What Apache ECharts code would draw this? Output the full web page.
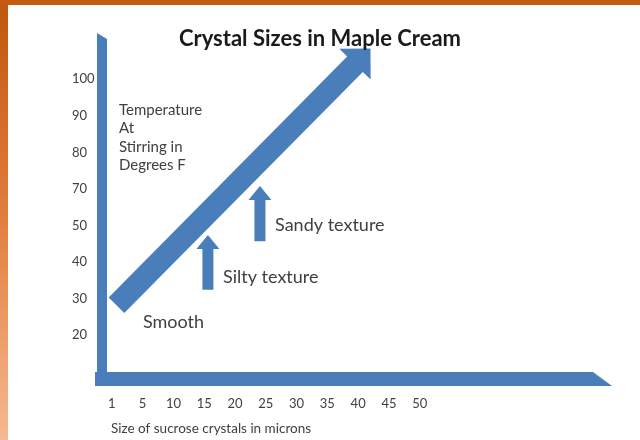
<!DOCTYPE html>
<html>
<head>
<meta charset="utf-8">
<script src="https://cdn.jsdelivr.net/npm/echarts@6/dist/echarts.min.js"></script>
<style>
html, body { margin: 0; padding: 0; background: #fff; }
#chart { width: 640px; height: 440px; }
</style>
</head>
<body>
<div id="chart"></div>
<script>
// Tick labels, one slot per label along each axis
const sizeLabels = ['1', '5', '10', '15', '20', '25', '30', '35', '40', '45', '50'];
const tempLabels = ['20', '30', '40', '50', '70', '80', '90', '100'];

// Arrows in slot units: [fromX, fromY, toX, toY]
const trendArrow = [[0.15, 0.82, 8.40, 7.84]];
const textureArrows = [[3.12, 1.24, 3.12, 2.74], [4.81, 2.57, 4.81, 4.08]];

// Annotations anchored (left, middle) at slot positions
const noteText = ['Smooth', 'Silty texture', 'Sandy texture'];
const noteX = [1.01, 3.61, 5.30];
const noteY = [0.36, 1.59, 3.01];

const BLUE = '#4A7EBB';
const TEXT = '#404040';
const FONT = 'Lato';

function arrowRenderer(shaftW, headW, headL) {
  return function (params, api) {
    const a = api.coord([api.value(0), api.value(1)]);
    const b = api.coord([api.value(2), api.value(3)]);
    const dx = b[0] - a[0], dy = b[1] - a[1];
    const len = Math.hypot(dx, dy);
    const ux = dx / len, uy = dy / len;
    const nx = -uy, ny = ux;
    const bx = b[0] - ux * headL, by = b[1] - uy * headL;
    const s = shaftW / 2, h = headW / 2;
    return {
      type: 'polygon',
      shape: {
        points: [
          [a[0] + nx * s, a[1] + ny * s],
          [bx + nx * s, by + ny * s],
          [bx + nx * h, by + ny * h],
          [b[0], b[1]],
          [bx - nx * h, by - ny * h],
          [bx - nx * s, by - ny * s],
          [a[0] - nx * s, a[1] - ny * s]
        ]
      },
      style: { fill: BLUE }
    };
  };
}

const chart = echarts.init(document.getElementById('chart'), null, { renderer: 'canvas' });

chart.setOption({
  animation: false,
  backgroundColor: '#ffffff',
  title: {
    text: 'Crystal Sizes in Maple Cream',
    left: 'center',
    top: 28,
    padding: 0,
    textStyle: { fontFamily: FONT, fontWeight: 'bold', fontSize: 22, color: '#1a1a1a' }
  },
  graphic: [
    {
      type: 'rect', x: 0, y: 0, z: 100,
      shape: { width: 8, height: 440 },
      style: {
        fill: new echarts.graphic.LinearGradient(0, 0, 0, 1, [
          { offset: 0, color: '#C0560F' },
          { offset: 0.5, color: '#E27F3F' },
          { offset: 1, color: '#F6B991' }
        ])
      }
    },
    { type: 'rect', x: 0, y: 0, z: 100, shape: { width: 640, height: 5 }, style: { fill: '#C55A11' } }
  ],
  grid: { left: 102, right: 54, top: 39, bottom: 61, outerBoundsMode: 'none' },
  xAxis: {
    type: 'value',
    min: -0.32,
    max: 15.4,
    name: 'Size of sucrose crystals in microns',
    nameLocation: 'start',
    nameGap: -9,
    nameMoveOverlap: false,
    nameTextStyle: {
      align: 'left', verticalAlign: 'top', padding: [42, 0, 0, 0],
      fontFamily: FONT, fontSize: 13.5, lineHeight: 15, color: TEXT
    },
    axisLine: {
      onZero: false,
      lineStyle: { color: BLUE, width: 14, cap: 'square' },
      symbol: ['none', 'path://M-7,0L7,0L7,-19Z'],
      symbolSize: [14, 19],
      symbolOffset: [0, 16.5]
    },
    axisTick: { show: false },
    splitLine: { show: false },
    axisLabel: {
      customValues: sizeLabels.map((_, i) => i),
      formatter: v => sizeLabels[Math.round(v)] || '',
      margin: 18,
      color: TEXT,
      fontFamily: FONT,
      fontSize: 13
    }
  },
  yAxis: {
    type: 'value',
    min: -1.2,
    max: 8.1,
    name: 'Temperature\nAt\nStirring in\nDegrees F',
    nameLocation: 'end',
    nameGap: -62,
    nameMoveOverlap: false,
    nameTextStyle: {
      align: 'left', verticalAlign: 'top', padding: [0, 0, 0, 17],
      fontFamily: FONT, fontSize: 15, lineHeight: 18.3, color: TEXT
    },
    axisLine: {
      onZero: false,
      lineStyle: { color: BLUE, width: 10, cap: 'butt' },
      symbol: ['none', 'path://M-5,0L5,0L-5,-6Z'],
      symbolSize: [10, 6],
      symbolOffset: [0, 3]
    },
    axisTick: { show: false },
    splitLine: { show: false },
    axisLabel: {
      customValues: tempLabels.map((_, i) => i),
      formatter: v => tempLabels[Math.round(v)] || '',
      align: 'left',
      margin: 30,
      color: TEXT,
      fontFamily: FONT,
      fontSize: 13
    }
  },
  series: [
    {
      type: 'custom',
      name: 'trend',
      silent: true,
      data: trendArrow,
      encode: { x: [0, 2], y: [1, 3] },
      renderItem: arrowRenderer(22, 44, 22)
    },
    {
      type: 'custom',
      name: 'texture',
      silent: true,
      data: textureArrows,
      encode: { x: [0, 2], y: [1, 3] },
      renderItem: arrowRenderer(11, 23, 14)
    },
    {
      type: 'custom',
      name: 'notes',
      silent: true,
      data: noteX.map((x, i) => [x, noteY[i]]),
      encode: { x: 0, y: 1 },
      renderItem: function (params, api) {
        const p = api.coord([api.value(0), api.value(1)]);
        return {
          type: 'text',
          x: p[0],
          y: p[1],
          style: {
            text: noteText[params.dataIndex],
            fill: TEXT,
            font: '18px ' + FONT,
            align: 'left',
            verticalAlign: 'middle'
          }
        };
      }
    }
  ]
});
</script>
</body>
</html>
